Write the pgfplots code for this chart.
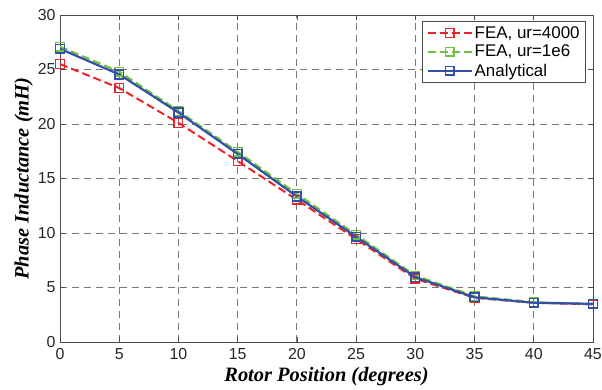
\documentclass[border=0pt]{standalone}
\usepackage{fontspec}
\setmainfont{Liberation Sans}
\newfontfamily\timesfont{Liberation Serif}
\usepackage{pgfplots}
\pgfplotsset{compat=1.18}
\definecolor{cred}{RGB}{235,35,40}
\definecolor{cgreen}{RGB}{110,195,60}
\definecolor{cblue}{RGB}{50,80,165}
\definecolor{cgrid}{RGB}{120,120,120}
\begin{document}
\begin{tikzpicture}[x=1bp,y=1bp]
\begin{axis}[
  at={(0,0)}, anchor=south west,
  scale only axis,
  width=533bp, height=327bp,
  xmin=0, xmax=45, ymin=0, ymax=30,
  xtick={0,5,...,45}, ytick={0,5,...,30},
  /pgf/number format/assume math mode=true,
  tick label style={font=\fontsize{16}{18}\selectfont, text=black!85},
  xticklabel style={yshift=-3bp},
  yticklabel style={xshift=-1bp},
  tick align=inside,
  major tick length=5bp,
  tick style={black!70, line width=0.7pt},
  grid=major,
  major grid style={dash pattern=on 7bp off 5bp, cgrid, line width=0.8pt},
  axis line style={black!70, line width=0.8pt},
  xlabel={\timesfont\bfseries\itshape\fontsize{20.5}{23}\selectfont Rotor Position (degrees)},
  ylabel={\timesfont\bfseries\itshape\fontsize{20.5}{23}\selectfont Phase Inductance (mH)},
  xlabel style={yshift=-1bp},
  ylabel style={yshift=-2bp},
  legend style={at={(0.987,0.982)}, anchor=north east, font=\fontsize{17}{20}\selectfont,
    draw=black!70, line width=0.8pt, row sep=1.5bp, inner xsep=4bp, inner ysep=3bp,
    nodes={inner sep=2bp}},
  legend cell align=left,
  legend image code/.code={
    \draw[mark repeat=2,mark phase=2,#1] plot coordinates {(0bp,0bp) (22bp,0bp) (44bp,0bp)};
  },
]
\addplot[cred, dash pattern=on 8bp off 4bp, line width=2pt, mark=square, mark size=4.3bp, mark options={solid, line width=1.3pt, fill=white}]
coordinates {(0,25.5) (5,23.3) (10,20.1) (15,16.6) (20,13.05) (25,9.45) (30,5.8) (35,4.05) (40,3.6) (45,3.45)};
\addlegendentry{FEA, ur=4000}
\addplot[cgreen, dash pattern=on 8bp off 4bp, line width=2pt, mark=square, mark size=4.3bp, mark options={solid, line width=1.3pt, fill=white}]
coordinates {(0,27.1) (5,24.8) (10,21.2) (15,17.45) (20,13.6) (25,9.85) (30,6.1) (35,4.2) (40,3.65) (45,3.5)};
\addlegendentry{FEA, ur=1e6}
\addplot[cblue, solid, line width=2.2pt, mark=square, mark size=4.3bp, mark options={solid, line width=1.6pt}]
coordinates {(0,26.9) (5,24.55) (10,21.05) (15,17.25) (20,13.35) (25,9.65) (30,5.95) (35,4.1) (40,3.6) (45,3.5)};
\addlegendentry{Analytical}
\end{axis}
\pgfresetboundingbox
\path[use as bounding box] (-60bp,-48bp) rectangle (542bp,342bp);
\end{tikzpicture}
\end{document}
